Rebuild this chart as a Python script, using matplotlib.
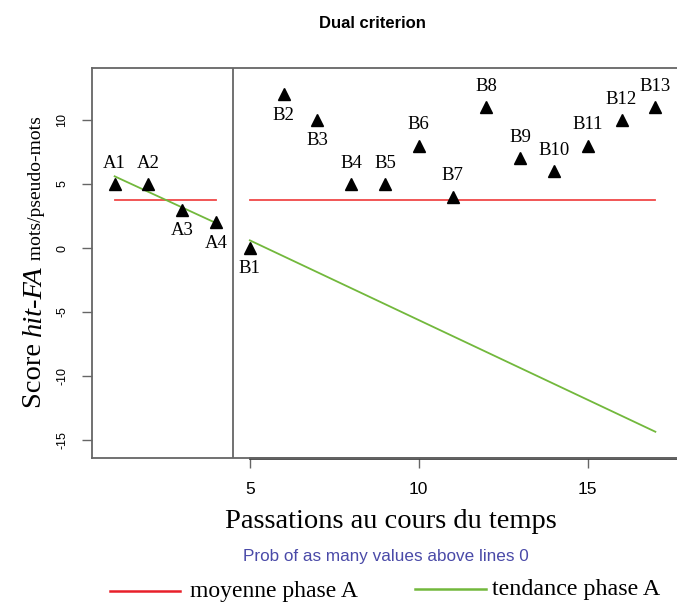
import matplotlib
matplotlib.use("Agg")
import matplotlib.pyplot as plt

# donnees
labels_a = ["A1", "A2", "A3", "A4"]
x_a = [1, 2, 3, 4]
y_a = [5, 5, 3, 2]

labels_b = ["B1", "B2", "B3", "B4", "B5", "B6", "B7", "B8", "B9", "B10", "B11", "B12", "B13"]
x_b = [5, 6, 7, 8, 9, 10, 11, 12, 13, 14, 15, 16, 17]
y_b = [0, 12, 10, 5, 5, 8, 4, 11, 7, 6, 8, 10, 11]

# etiquettes au-dessous (-1) ou au-dessus (+1) du point
side_a = [1, 1, -1, -1]
side_b = [-1, -1, -1, 1, 1, 1, 1, 1, 1, 1, 1, 1, 1]

mean_a = sum(y_a) / len(y_a)
trend_a_x = [1, 4]
trend_a_y = [5.6, 1.95]
trend_b_x = [5, 17]
trend_b_y = [0.6, -14.35]

xticks = [5, 10, 15]
yticks = [-15, -10, -5, 0, 5, 10]

serif = "Liberation Serif"
sans = "Liberation Sans"
frame_col = "#666666"

fig = plt.figure(figsize=(6.77, 6.02), dpi=100)
ax = fig.add_axes([92 / 677, 1 - 458 / 602, 1 - 92 / 677, (458 - 68) / 602])
ax.set_xlim(0.33, 17.64)
ax.set_ylim(-16.4, 14.06)

# lignes de moyenne et de tendance
ax.plot([x_a[0], x_a[-1]], [mean_a, mean_a], color="#f04848", lw=1.3)
ax.plot([x_b[0], x_b[-1]], [mean_a, mean_a], color="#f04848", lw=1.3)
ax.plot(trend_a_x, trend_a_y, color="#72b83c", lw=1.3)
ax.plot(trend_b_x, trend_b_y, color="#72b83c", lw=1.3)
ax.axvline(4.5, color=frame_col, lw=1.3)

ax.plot(x_a, y_a, ls="none", marker="^", ms=8.5, color="black")
ax.plot(x_b, y_b, ls="none", marker="^", ms=8.5, color="black")

for lab, x, y, s in zip(labels_a + labels_b, x_a + x_b, y_a + y_b, side_a + side_b):
    ax.annotate(lab, (x, y), xytext=(0, 15 * s), textcoords="offset points",
                ha="center", va="center", family=serif, fontsize=13.5)

for sp in ax.spines.values():
    sp.set_color(frame_col)
    sp.set_linewidth(1.3)
ax.spines["right"].set_visible(False)
# trait d'axe plus epais a partir de la premiere graduation
ax.plot([xticks[0], 17.64], [0, 0], color="#444444", lw=2,
        transform=ax.get_xaxis_transform(), clip_on=False)

ax.set_xticks(xticks)
ax.set_yticks(yticks)
ax.set_yticklabels([str(v) for v in yticks], rotation=90, va="center")
ax.tick_params(length=7.5, width=1, color=frame_col)
ax.tick_params(axis="x", labelsize=12.5, pad=10)
ax.tick_params(axis="y", labelsize=9, pad=9.5)
for t in ax.get_xticklabels() + ax.get_yticklabels():
    t.set_family(sans)

fig.text(372 / 677, 1 - 23 / 602, "Dual criterion", ha="center", va="center",
         family=sans, fontweight="bold", fontsize=12)

fig.text(391 / 677, 1 - 522 / 602, "Passations au cours du temps", ha="center",
         va="center", family=serif, fontsize=20.5)
fig.text(386 / 677, 1 - 556 / 602, "Prob of as many values above lines 0",
         ha="center", va="center", family=sans, fontsize=12.3, color="#4a4aa8")

# titre de l'axe y en trois morceaux
fig.canvas.draw()
r = fig.canvas.get_renderer()
pieces = [("Score ", "normal", 20.5), ("hit-FA", "italic", 20.5), (" mots/pseudo-mots", "normal", 14)]
ypos = 1 - 408 / 602
for txt, style, size in pieces:
    t = fig.text(41 / 677, ypos, txt, rotation=90, ha="left", va="baseline",
                 rotation_mode="anchor", family=serif, style=style, fontsize=size)
    bb = t.get_window_extent(r)
    ypos += bb.height / fig.bbox.height

# legende
fig.lines.append(plt.Line2D([110 / 677, 180 / 677], [1 - 591 / 602] * 2,
                            color="#e8202a", lw=1.8, transform=fig.transFigure))
fig.text(190 / 677, 1 - 591 / 602, "moyenne phase A", ha="left", va="center",
         family=serif, fontsize=17)
fig.lines.append(plt.Line2D([415 / 677, 486 / 677], [1 - 589 / 602] * 2,
                            color="#72b83c", lw=1.8, transform=fig.transFigure))
fig.text(492 / 677, 1 - 589 / 602, "tendance phase A", ha="left", va="center",
         family=serif, fontsize=17.3)

fig.savefig("out.png", dpi=100)
